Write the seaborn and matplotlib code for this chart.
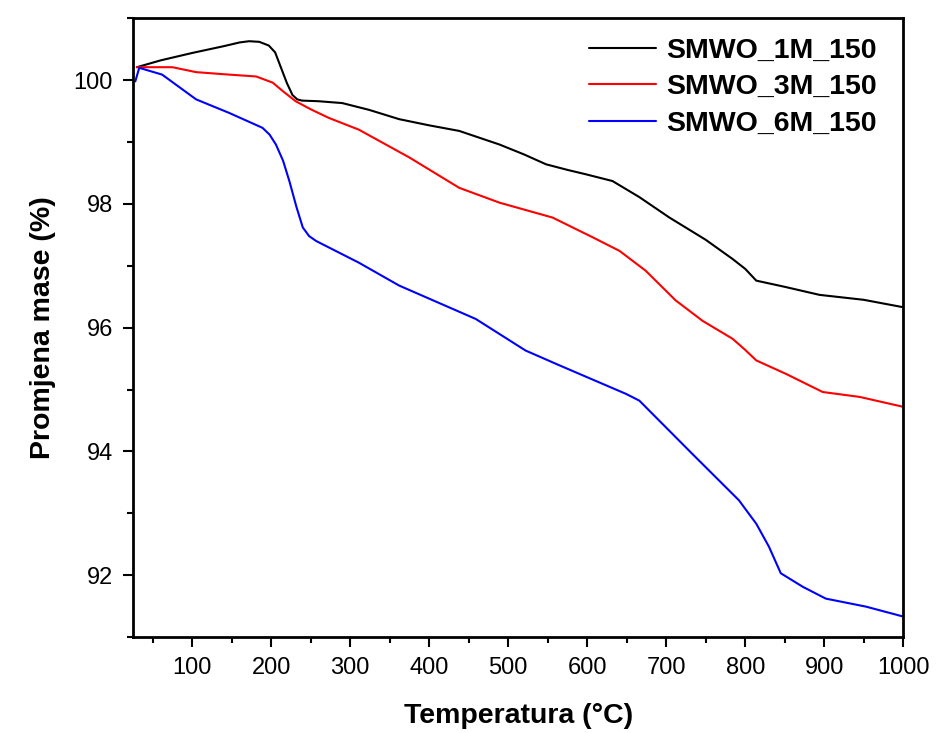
import numpy as np
import pandas as pd
import seaborn as sns
import matplotlib.pyplot as plt
from matplotlib.ticker import MultipleLocator

# TGA curves
t_1m = [30, 60, 100, 140, 160, 172, 185, 197, 205, 214, 220, 227, 233, 239, 260, 290,
        324, 362, 400, 438, 489, 520, 548, 575, 598, 632, 666, 704, 750, 784, 800,
        814, 850, 894, 950, 1000]
m_1m = [100.21, 100.32, 100.44, 100.55, 100.61, 100.63, 100.62, 100.56, 100.45, 100.15,
        99.95, 99.76, 99.69, 99.67, 99.66, 99.63, 99.52, 99.37, 99.27, 99.18, 98.96,
        98.80, 98.64, 98.55, 98.48, 98.37, 98.11, 97.78, 97.42, 97.11, 96.95, 96.76,
        96.66, 96.53, 96.45, 96.33]

t_3m = [30, 75, 105, 147, 181, 202, 215, 231, 250, 273, 311, 375, 438, 489, 556, 607,
        641, 674, 712, 746, 784, 800, 814, 852, 898, 945, 1000]
m_3m = [100.21, 100.21, 100.13, 100.09, 100.06, 99.96, 99.82, 99.66, 99.53, 99.39,
        99.20, 98.75, 98.26, 98.02, 97.78, 97.46, 97.24, 96.92, 96.44, 96.11, 95.82,
        95.64, 95.47, 95.25, 94.96, 94.88, 94.72]

t_6m = [28, 33, 62, 105, 147, 189, 198, 206, 215, 223, 232, 240, 248, 257, 311, 362,
        459, 522, 565, 649, 666, 733, 792, 814, 830, 845, 873, 902, 953, 1000]
m_6m = [99.98, 100.20, 100.09, 99.69, 99.47, 99.23, 99.12, 98.96, 98.70, 98.37,
        97.95, 97.62, 97.48, 97.40, 97.05, 96.68, 96.14, 95.63, 95.39, 94.93, 94.82,
        93.96, 93.21, 92.83, 92.46, 92.03, 91.81, 91.62, 91.49, 91.33]

labels = ["SMWO_1M_150", "SMWO_3M_150", "SMWO_6M_150"]
colors = ["black", "red", "blue"]

df = pd.concat([
    pd.DataFrame({"T": t_1m, "m": m_1m, "uzorak": labels[0]}),
    pd.DataFrame({"T": t_3m, "m": m_3m, "uzorak": labels[1]}),
    pd.DataFrame({"T": t_6m, "m": m_6m, "uzorak": labels[2]}),
])

sns.set_style("ticks", {"axes.edgecolor": "black", "xtick.color": "black",
                        "ytick.color": "black", "text.color": "black",
                        "axes.labelcolor": "black"})
plt.rcParams['font.family'] = ['Liberation Sans', 'DejaVu Sans']

fig = plt.figure(figsize=(9.36, 7.33), dpi=100)
ax = fig.add_axes([0.142, 0.131, 0.823, 0.844])

sns.lineplot(data=df, x="T", y="m", hue="uzorak", palette=colors, sort=False,
             linewidth=1.5, ax=ax)

ax.set_xlim(25, 1000)
ax.set_ylim(91, 101)
ax.xaxis.set_major_locator(MultipleLocator(100))
ax.xaxis.set_minor_locator(MultipleLocator(50))
ax.yaxis.set_major_locator(MultipleLocator(2))
ax.yaxis.set_minor_locator(MultipleLocator(1))
ax.tick_params(which="major", direction="out", length=7.5, width=1.5, labelsize=17,
               pad=7, colors="black")
ax.tick_params(which="minor", direction="out", length=4, width=1.5, colors="black")
for s in ax.spines.values():
    s.set_linewidth(2)
    s.set_visible(True)
    s.set_color("black")

ax.set_xlabel("Temperatura (°C)", fontsize=20.5, fontweight="bold", labelpad=17)
ax.set_ylabel("Promjena mase (%)", fontsize=20.5, fontweight="bold", labelpad=12.5)

ax.legend(title=None, frameon=False, loc="upper right", bbox_to_anchor=(0.999, 1.01),
          prop={"weight": "bold", "size": 20.5}, handlelength=2.35, handletextpad=0.35,
          labelspacing=0.37)

plt.savefig("out.png", dpi=100)
